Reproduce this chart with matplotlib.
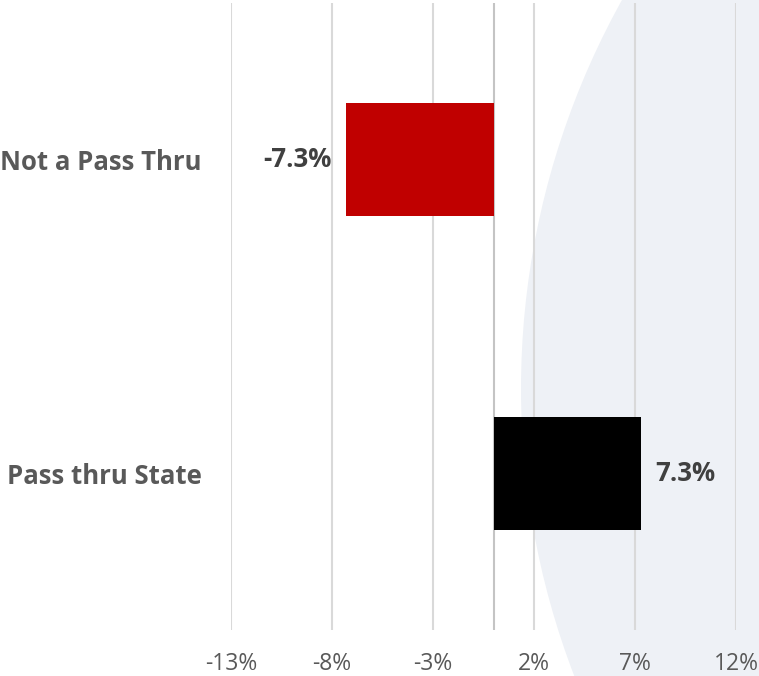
import matplotlib
matplotlib.use("Agg")
import matplotlib.pyplot as plt
from matplotlib.patches import Ellipse

categories = ["Not a Pass Thru", "Pass thru State"]
values = [-7.3, 7.3]
bar_colors = ["#C00000", "#000000"]
tick_values = [-13, -8, -3, 2, 7, 12]
tick_labels = ["-13%", "-8%", "-3%", "2%", "7%", "12%"]

W, H = 759, 676
plt.rcParams["font.family"] = ["Open Sans", "DejaVu Sans"]

fig = plt.figure(figsize=(W / 100, H / 100), dpi=100)
fig.patch.set_facecolor("white")

# soft decorative backdrop on the right side
backdrop = Ellipse((1321 / W, 1 - 389 / H), 1600 / W, 1600 / H,
                   transform=fig.transFigure, facecolor="#EEF1F6",
                   edgecolor="none", zorder=0)
fig.patches.append(backdrop)

left, right, top, bottom = 231, 736, 3, 630
ax = fig.add_axes([left / W, 1 - bottom / H, (right - left) / W, (bottom - top) / H])
ax.set_facecolor("none")
ax.set_zorder(1)

ypos = list(range(len(categories)))
ax.barh(ypos, values, height=0.36, color=bar_colors, zorder=3)

ax.set_xlim(-13, 12)
ax.set_ylim(1.5, -0.5)
ax.set_xticks(tick_values)
ax.set_xticklabels(tick_labels)
ax.xaxis.grid(True, color="#D9D9D9", linewidth=1.5, zorder=1)
ax.axvline(0, color="#C4C4C4", linewidth=1.5, zorder=2)
ax.set_axisbelow(True)

ax.set_yticks(ypos)
ax.set_yticklabels(categories, fontsize=18.5, fontweight="bold", color="#595959")
ax.tick_params(axis="y", length=0, pad=21)
ax.tick_params(axis="x", length=0, pad=16, labelsize=16.5, labelcolor="#595959")

for s in ax.spines.values():
    s.set_visible(False)

for y, v in zip(ypos, values):
    off = 0.7 if v >= 0 else -0.7
    ax.text(v + off, y, f"{v:.1f}%", ha="left" if v >= 0 else "right",
            va="center", fontsize=18.5, fontweight="bold", color="#404040", zorder=4)

fig.savefig("out.png", dpi=100)
